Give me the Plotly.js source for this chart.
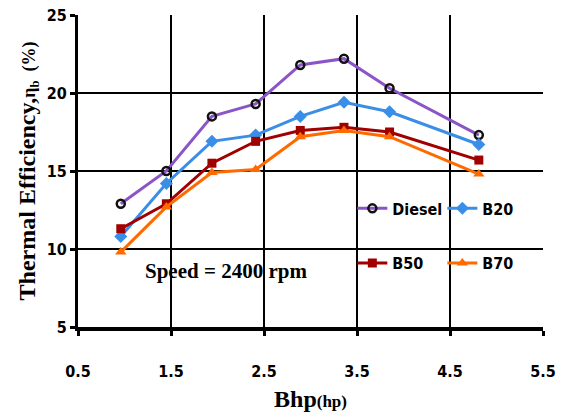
<!DOCTYPE html>
<html>
<head>
<meta charset="utf-8">
<script src="https://cdn.plot.ly/plotly-3.0.1.min.js"></script>
<style>
  html, body { margin: 0; padding: 0; background: #fff; }
  #chart { width: 564px; height: 418px; }
</style>
</head>
<body>
<div id="chart"></div>
<script>
// Brake power (hp) at each test point
const bhp = [0.96, 1.45, 1.94, 2.41, 2.89, 3.36, 3.85, 4.81];

// Brake thermal efficiency (%) for each fuel blend
const diesel = [12.9, 15.0, 18.5, 19.3, 21.8, 22.2, 20.3, 17.3];
const b20    = [10.8, 14.2, 16.9, 17.3, 18.5, 19.4, 18.8, 16.7];
const b50    = [11.3, 12.9, 15.5, 16.9, 17.6, 17.8, 17.5, 15.7];
const b70    = [9.8, 12.7, 14.9, 15.1, 17.2, 17.6, 17.2, 14.8];

const seriesNames = ["Diesel", "B20", "B50", "B70"];
const xTicks = [0.5, 1.5, 2.5, 3.5, 4.5, 5.5];
const yTicks = [5, 10, 15, 20, 25];

const narrowBold = "DejaVu Sans Condensed, DejaVu Sans, sans-serif";
const serifBold = "Liberation Serif, Times New Roman, serif";

const tickFont = { family: narrowBold, size: 16, color: "#000", weight: "bold", stretch: "condensed" };
const legendFont = { family: narrowBold, size: 16, color: "#000", weight: "bold", stretch: "condensed" };

const traces = [
  {
    x: bhp, y: diesel, name: seriesNames[0], legend: "legend",
    mode: "lines+markers",
    line: { color: "#8B55C8", width: 3 },
    marker: { symbol: "circle-open", size: 8, color: "#111", line: { color: "#111", width: 2.5 } }
  },
  {
    x: bhp, y: b20, name: seriesNames[1], legend: "legend",
    mode: "lines+markers",
    line: { color: "#3B8EE6", width: 3 },
    marker: { symbol: "diamond", size: 10, color: "#3B8EE6" }
  },
  {
    x: bhp, y: b50, name: seriesNames[2], legend: "legend2",
    mode: "lines+markers",
    line: { color: "#A00000", width: 3 },
    marker: { symbol: "square", size: 9, color: "#A00000" }
  },
  {
    x: bhp, y: b70, name: seriesNames[3], legend: "legend2",
    mode: "lines+markers",
    line: { color: "#FF6A00", width: 3 },
    marker: { symbol: "triangle-up", size: 10, color: "#FF6A00" }
  }
];

const legendBase = {
  orientation: "h", xanchor: "left", yanchor: "middle",
  bgcolor: "rgba(0,0,0,0)", font: legendFont, itemwidth: 30,
  entrywidth: 45, tracegroupgap: 0
};

const layout = {
  width: 564,
  height: 418,
  margin: { l: 78, r: 21, t: 15, b: 91, autoexpand: false },
  paper_bgcolor: "#fff",
  plot_bgcolor: "#fff",
  showlegend: true,
  legend: Object.assign({}, legendBase, { x: 0.59, y: 0.38 }),
  legend2: Object.assign({}, legendBase, { x: 0.59, y: 0.205 }),
  xaxis: {
    range: [0.5, 5.5],
    tickvals: xTicks,
    ticktext: xTicks.map(v => v.toFixed(1)),
    tickfont: tickFont,
    ticks: "outside", ticklen: 5, tickwidth: 3, tickcolor: "#000",
    ticklabelstandoff: 22,
    showgrid: true, gridcolor: "#000", gridwidth: 2.5,
    showline: true, linecolor: "#000", linewidth: 4,
    zeroline: false,
    title: {
      text: "Bhp<span style='font-size:17px'>(hp)</span>",
      font: { family: serifBold, size: 24, color: "#000", weight: "bold" },
      standoff: 11
    }
  },
  yaxis: {
    range: [5, 25],
    tickvals: yTicks,
    tickfont: tickFont,
    ticks: "outside", ticklen: 5, tickwidth: 3, tickcolor: "#000",
    showgrid: true, gridcolor: "#000", gridwidth: 2.5,
    showline: true, linecolor: "#000", linewidth: 3,
    zeroline: false,
    title: {
      text: "Thermal Efficiency,<span style='font-size:18px'>η<sub>b</sub>  (%)</span>",
      font: { family: serifBold, size: 24, color: "#000", weight: "bold" },
      standoff: 5
    }
  },
  annotations: [
    {
      x: 2.09, y: 8.6, xref: "x", yref: "y",
      text: "Speed = 2400 rpm", showarrow: false,
      font: { family: serifBold, size: 21, color: "#000", weight: "bold" }
    }
  ]
};

Plotly.newPlot("chart", traces, layout, { displayModeBar: false, staticPlot: true });
</script>
</body>
</html>
